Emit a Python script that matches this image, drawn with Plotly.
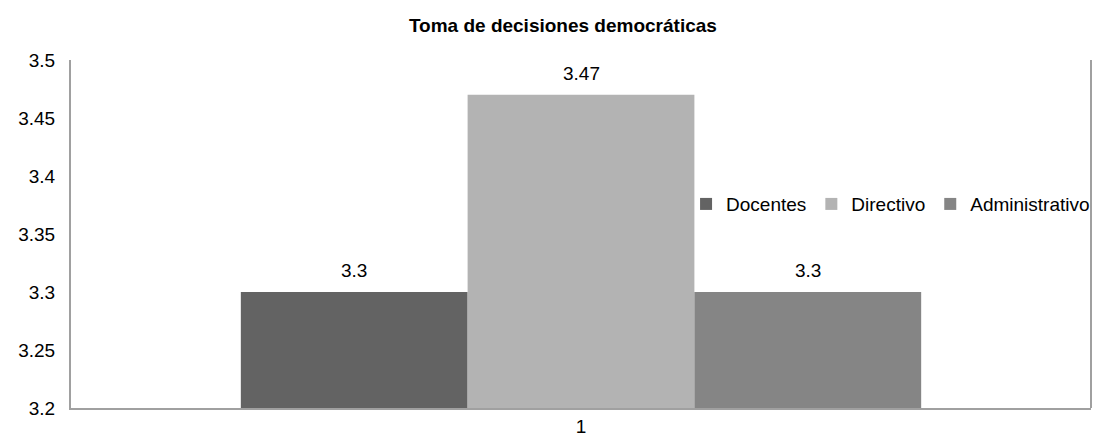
import plotly.graph_objects as go

title = "Toma de decisiones democráticas"
category_pos = [1]
category_labels = ["1"]
series_names = ["Docentes", "Directivo", "Administrativo"]
series_values = [3.3, 3.47, 3.3]
series_labels = ["3.3", "3.47", "3.3"]
colors = ["#636363", "#b3b3b3", "#858585"]

FONT = "Liberation Sans, Arial, sans-serif"
BARGAP = 0.333

# the page body adds an 8px margin, so the figure is drawn 8px smaller
W, H = 1109 - 8, 442 - 8

fig = go.Figure()
for name, val, col in zip(series_names, series_values, colors):
    fig.add_trace(
        go.Bar(
            x=category_pos,
            y=[val],
            name=name,
            marker=dict(color=col, line=dict(width=0)),
        )
    )

# value labels above each bar (centers follow the grouped-bar layout)
n = len(series_names)
bar_w = (1 - BARGAP) / n
for i, (val, lab) in enumerate(zip(series_values, series_labels)):
    fig.add_annotation(
        x=category_pos[0] + (i - (n - 1) / 2) * bar_w,
        y=val,
        text=lab,
        showarrow=False,
        yanchor="bottom",
        yshift=9,
        font=dict(family=FONT, size=19, color="#000000"),
    )

fig.update_layout(
    barmode="group",
    bargap=BARGAP,
    bargroupgap=0,
    width=W,
    height=H,
    margin=dict(l=63, r=18, t=52, b=34, autoexpand=False),
    paper_bgcolor="white",
    plot_bgcolor="white",
    font=dict(family=FONT, size=19, color="#000000"),
    title=dict(
        text="<b>" + title + "</b>",
        x=0.504,
        xanchor="center",
        y=0.961,
        yanchor="middle",
        font=dict(family=FONT, size=19, color="#000000"),
    ),
    showlegend=True,
    legend=dict(
        orientation="h",
        x=0.603,
        xanchor="left",
        y=0.586,
        yanchor="middle",
        bgcolor="rgba(0,0,0,0)",
        font=dict(family=FONT, size=19),
        itemwidth=30,
        traceorder="normal",
    ),
)

fig.update_xaxes(
    range=[category_pos[0] - 0.5, category_pos[0] + 0.5],
    tickvals=category_pos,
    ticktext=category_labels,
    showline=True,
    linecolor="#a0a0a0",
    linewidth=2,
    mirror=False,
    ticks="",
    tickfont=dict(family=FONT, size=19),
    showgrid=False,
    zeroline=False,
)
fig.update_yaxes(
    range=[3.2, 3.5],
    dtick=0.05,
    tickformat="~g",
    showline=True,
    linecolor="#a0a0a0",
    linewidth=2,
    ticks="",
    showgrid=False,
    zeroline=False,
    tickfont=dict(family=FONT, size=19),
    ticklabelstandoff=10,
)
# right border line of the plot area
fig.add_shape(
    type="line", xref="paper", yref="paper", x0=1, x1=1, y0=0, y1=1,
    line=dict(color="#a0a0a0", width=2),
)

fig.write_html("out.html")
